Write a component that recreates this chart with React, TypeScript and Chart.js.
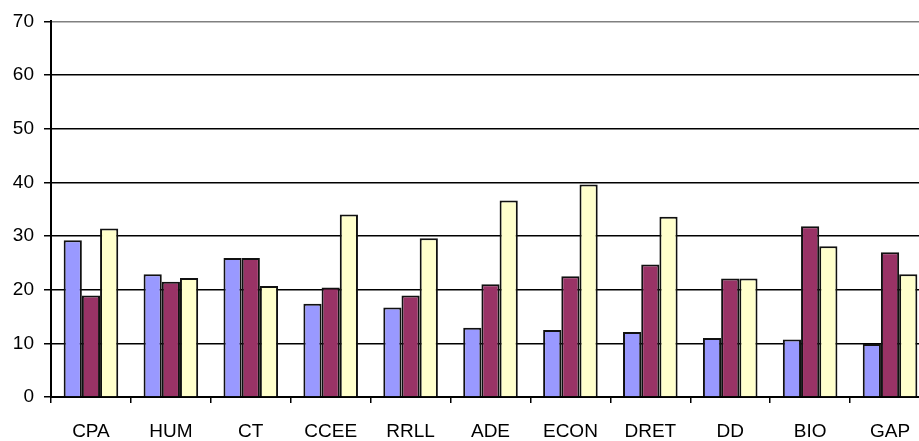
import React, { useEffect, useRef } from "react";
import { Chart, registerables } from "chart.js";

Chart.register(...registerables);

const categories = ["CPA", "HUM", "CT", "CCEE", "RRLL", "ADE", "ECON", "DRET", "DD", "BIO", "GAP"];
const series1 = [29.2, 22.9, 25.9, 17.4, 16.7, 12.9, 12.5, 12.1, 11.0, 10.7, 9.9];
const series2 = [18.9, 21.5, 25.9, 20.4, 18.9, 21.0, 22.5, 24.7, 22.1, 31.8, 27.0];
const series3 = [31.4, 22.2, 20.7, 34.0, 29.6, 36.6, 39.6, 33.6, 22.1, 28.1, 22.9];
const yTicks = [0, 10, 20, 30, 40, 50, 60, 70];

const FONT = "'Liberation Sans', Arial, sans-serif";

export default function App() {
  const ref = useRef<HTMLCanvasElement | null>(null);

  useEffect(() => {
    document.body.style.margin = "0";
    document.body.style.overflow = "hidden";
    const canvas = ref.current;
    if (!canvas) return;
    const barStyle = { borderColor: "#111", borderWidth: 2, borderSkipped: "start" as const };
    const chart = new Chart(canvas, {
      type: "bar",
      data: {
        labels: categories,
        datasets: [
          { data: series1, backgroundColor: "#9999FF", ...barStyle },
          { data: series2, backgroundColor: "#993366", ...barStyle },
          { data: series3, backgroundColor: "#FFFFCC", ...barStyle },
        ],
      },
      options: {
        responsive: false,
        animation: false,
        devicePixelRatio: 1,
        layout: { padding: { top: 19, left: 0, right: 0, bottom: 0 } },
        plugins: { legend: { display: false }, tooltip: { enabled: false } },
        datasets: { bar: { categoryPercentage: 0.683, barPercentage: 1 } },
        scales: {
          x: {
            offset: true,
            grid: {
              offset: true,
              drawOnChartArea: false,
              drawTicks: true,
              tickLength: 6,
              color: "#000",
              tickColor: "#000",
              lineWidth: 1.5,
            },
            border: { display: true, color: "#000", width: 2 },
            ticks: {
              color: "#000",
              font: { family: FONT, size: 19 },
              padding: 17,
              maxRotation: 0,
              autoSkip: false,
            },
            afterFit: (scale: any) => {
              scale.height = 44;
            },
          },
          y: {
            min: 0,
            max: 70,
            afterBuildTicks: (scale: any) => {
              scale.ticks = yTicks.map((v) => ({ value: v }));
            },
            grid: {
              color: (ctx: any) => (ctx.tick && ctx.tick.value === 70 ? "#808080" : "#000"),
              tickColor: "#000",
              tickLength: 7,
              lineWidth: 1.5,
            },
            border: { display: true, color: "#000", width: 2 },
            ticks: {
              color: "#000",
              font: { family: FONT, size: 19 },
              padding: 10,
            },
            afterFit: (scale: any) => {
              scale.width = 51;
            },
          },
        },
      },
    });
    return () => chart.destroy();
  }, []);

  return (
    <div
      style={{
        position: "fixed",
        left: 0,
        top: 0,
        width: 919,
        height: 441,
        overflow: "hidden",
        background: "#fff",
      }}
    >
      <canvas ref={ref} width={930} height={441} style={{ display: "block" }} />
    </div>
  );
}
